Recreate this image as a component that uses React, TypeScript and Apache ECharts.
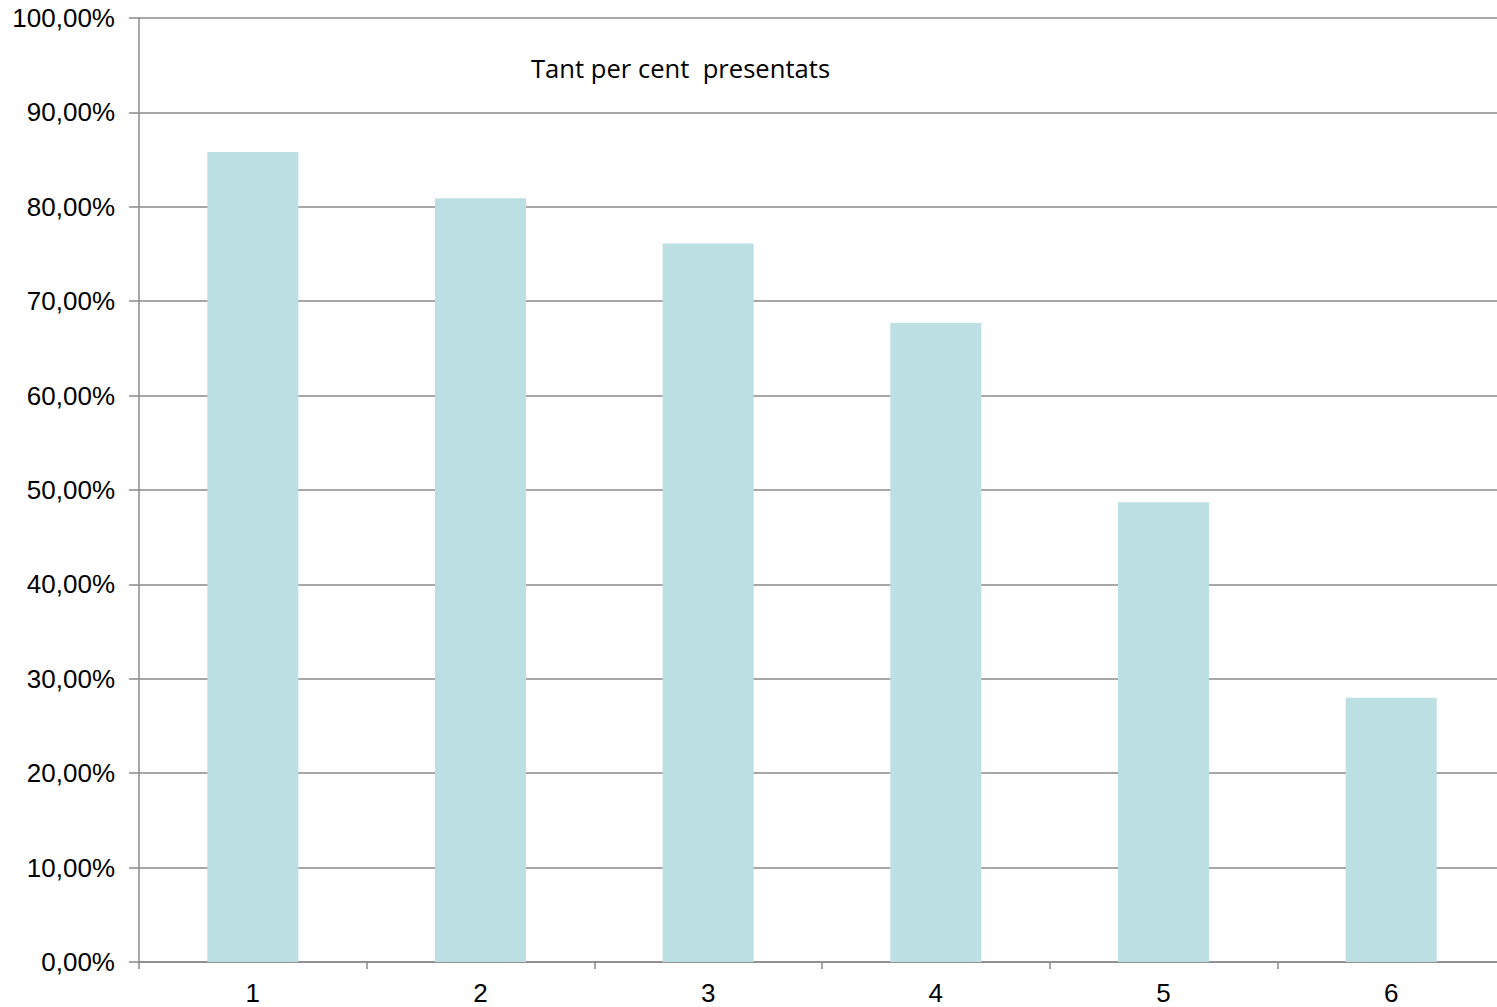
import React, { useEffect, useRef } from "react";
import * as echarts from "echarts";

const categories = ["1", "2", "3", "4", "5", "6"];
const values = [85.8, 80.9, 76.1, 67.7, 48.7, 28.0];
const titleText = "Tant per cent  presentats";

export default function App() {
  const ref = useRef<HTMLDivElement>(null);
  useEffect(() => {
    const chart = echarts.init(ref.current!, null, { renderer: "svg" });
    chart.setOption({
      animation: false,
      backgroundColor: "#ffffff",
      graphic: [
        {
          type: "text",
          left: 531,
          top: 55,
          style: {
            text: titleText,
            font: '25.6px "Open Sans"',
            fill: "#000000",
            whiteSpace: "pre",
          },
        },
      ],
      grid: { left: 139, right: 0, top: 18, bottom: 45, containLabel: false },
      xAxis: {
        type: "category",
        data: categories,
        boundaryGap: true,
        axisLine: { show: true, lineStyle: { color: "#8a8a8a", width: 1.5 } },
        axisTick: { show: true, length: 7, lineStyle: { color: "#8a8a8a", width: 1.5 } },
        axisLabel: { color: "#000", fontSize: 26, fontFamily: "Liberation Sans", margin: 18 },
        splitLine: { show: false },
      },
      yAxis: {
        type: "value",
        min: 0,
        max: 100,
        interval: 10,
        axisLine: { show: true, lineStyle: { color: "#8a8a8a", width: 1.5 } },
        axisTick: { show: true, length: 10, lineStyle: { color: "#8a8a8a", width: 1.5 } },
        axisLabel: {
          color: "#000",
          fontSize: 26,
          fontFamily: "Liberation Sans",
          margin: 24,
          formatter: (v: number) => v.toFixed(2).replace(".", ",") + "%",
        },
        splitLine: { show: true, lineStyle: { color: "#8a8a8a", width: 1.5 } },
      },
      series: [
        {
          type: "bar",
          data: values,
          barWidth: 91,
          itemStyle: { color: "#BBDFE2" },
        },
      ],
    });
    return () => chart.dispose();
  }, []);
  return (
    <div style={{ position: "absolute", left: 0, top: 0, width: 1497, height: 1007, overflow: "hidden" }}>
      <div ref={ref} style={{ width: 1505, height: 1007 }} />
    </div>
  );
}
